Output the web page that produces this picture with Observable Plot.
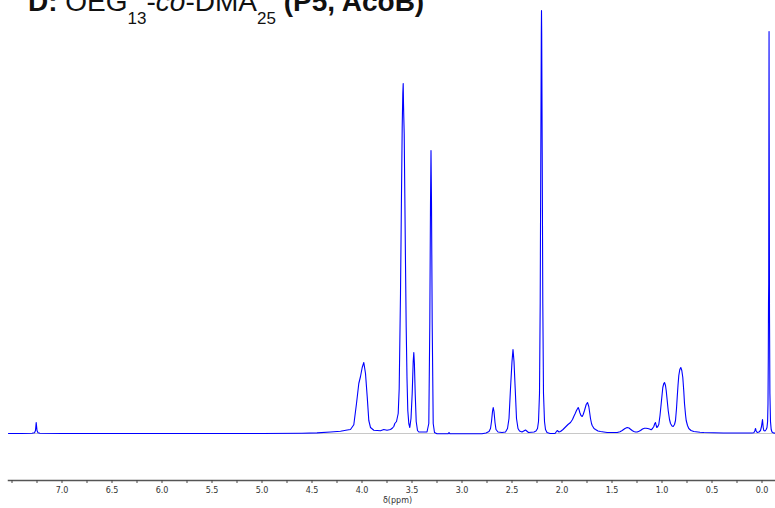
<!DOCTYPE html>
<html>
<head>
<meta charset="utf-8">
<script src="https://cdn.jsdelivr.net/npm/d3@7"></script>
<script src="https://cdn.jsdelivr.net/npm/@observablehq/plot@0.6"></script>
<style>
  html, body { margin: 0; padding: 0; background: #fff; }
  #wrap { position: relative; width: 775px; height: 508px; overflow: hidden; }
  #title { position: absolute; left: 28px; top: -12px; font-family: "Liberation Sans", Arial, sans-serif;
           font-size: 28px; line-height: 28px; white-space: nowrap; color: #111; z-index: 2; }
  #title .sub { font-size: 17px; position: relative; top: 13px; }
  #chart { position: absolute; left: 0; top: 0; }
</style>
</head>
<body>
<div id="wrap">
  <div id="title"><b>D:</b> OEG<span class="sub">13</span>-<i>co</i>-DMA<span class="sub">25</span> <b>(P5, AcoB)</b></div>
  <div id="chart"></div>
</div>
<script>
// chemical shift (ppm) and intensity (arbitrary units)
const spectrumPpm = [
  7.535, 7.40, 7.30, 7.275, 7.265, 7.258, 7.25, 7.24, 7.22, 7.0, 6.0, 5.0, 4.6, 4.45, 4.315, 4.215, 4.148, 4.115,
  4.082, 4.055, 4.032, 4.015, 3.998, 3.982, 3.965, 3.948, 3.932, 3.915, 3.882, 3.815, 3.782, 3.75, 3.715, 3.695,
  3.682, 3.672, 3.655, 3.638, 3.628, 3.615, 3.605, 3.598, 3.592, 3.588, 3.585, 3.582, 3.578, 3.572, 3.565, 3.558,
  3.55, 3.542, 3.532, 3.522, 3.51, 3.498, 3.488, 3.482, 3.476, 3.468, 3.458, 3.445, 3.432, 3.35, 3.332, 3.322,
  3.315, 3.31, 3.305, 3.298, 3.288, 3.275, 3.25, 3.14, 3.13, 3.12, 2.80, 2.76, 2.73, 2.715, 2.705, 2.695, 2.688,
  2.68, 2.67, 2.66, 2.64, 2.60, 2.565, 2.545, 2.53, 2.515, 2.50, 2.49, 2.48, 2.468, 2.455, 2.44, 2.425, 2.40,
  2.365, 2.335, 2.28, 2.26, 2.245, 2.235, 2.225, 2.218, 2.212, 2.207, 2.205, 2.203, 2.198, 2.192, 2.185, 2.175,
  2.165, 2.15, 2.12, 2.07, 2.048, 2.03, 2.015, 1.99, 1.965, 1.94, 1.915, 1.895, 1.882, 1.868, 1.855, 1.838, 1.83,
  1.822, 1.81, 1.798, 1.788, 1.775, 1.758, 1.745, 1.732, 1.722, 1.715, 1.705, 1.698, 1.68, 1.665, 1.64, 1.615,
  1.548, 1.448, 1.42, 1.398, 1.37, 1.348, 1.33, 1.315, 1.295, 1.282, 1.265, 1.248, 1.23, 1.215, 1.195, 1.175,
  1.16, 1.142, 1.125, 1.108, 1.095, 1.082, 1.072, 1.065, 1.058, 1.052, 1.042, 1.032, 1.02, 1.008, 0.992, 0.982,
  0.975, 0.965, 0.958, 0.948, 0.938, 0.925, 0.915, 0.9, 0.888, 0.875, 0.865, 0.855, 0.848, 0.84, 0.832, 0.822,
  0.812, 0.802, 0.792, 0.782, 0.775, 0.765, 0.758, 0.745, 0.732, 0.71, 0.682, 0.62, 0.582, 0.385, 0.1, 0.082,
  0.072, 0.065, 0.058, 0.048, 0.03, 0.015, 0.005, -0.005, -0.012, -0.018, -0.03, -0.042, -0.05, -0.056, -0.06,
  -0.063, -0.065, -0.067, -0.069, -0.0705, -0.072, -0.075, -0.079, -0.085, -0.092, -0.10, -0.115, -0.135
];
const spectrumIntensity = [
  0, 0, 0.2, 0.8, 3, 11, 3, 0.8, 0.2, 0, 0, 0, 0.2, 0.6, 1.5, 2.2, 3.5, 4,
  8.7, 30, 50, 57, 66, 71, 60, 37, 13, 6, 3.3, 2.7, 4, 3.2, 4, 5.5,
  7, 10, 12, 20, 45, 140, 240, 306, 340, 350, 330, 316, 300, 240, 170, 106,
  55, 23, 10, 6, 15, 40, 72, 81, 70, 40, 12, 3, 1.5, 1.5, 10, 110,
  230, 283, 230, 110, 10, 1, -0.3, -0.3, 1, -0.3, -0.3, 0.5, 2, 5, 12, 22, 26,
  22, 11, 4, 1.5, 1, 1.5, 5, 15, 45, 72, 84, 72, 45, 15, 5, 2.5, 1.5,
  3.5, 1, 1.5, 2.5, 5, 12, 40, 130, 280, 400, 423, 400, 280, 130, 40, 12,
  4, 1, 0, 0, 3, 1.5, 2, 4, 6.5, 9, 11, 14, 17, 20, 23, 26, 24,
  21, 18, 17, 19, 23, 29, 31, 27, 20, 15, 10, 8, 5, 4, 2.5, 2,
  1, 1, 1.8, 3, 5, 6, 5.5, 4.3, 2.7, 2, 1.5, 1.5, 2.2, 3, 4.5, 5.3,
  5.3, 5, 4.5, 3.7, 5, 7, 10, 11, 8, 6, 7, 9, 18, 30, 46, 50,
  51, 48, 43, 33, 23, 14, 10, 7.5, 7, 9, 13, 25, 36, 48, 58, 64,
  66, 63, 56, 42, 30, 19, 13, 8, 5, 3, 2, 1.2, 1, 0.5, 0.5, 0.8,
  2.5, 5, 2.5, 1, 1.5, 3, 7, 14, 6, 3, 2.5, 4, 6, 12, 30,
  76, 130, 150, 300, 402, 300, 120, 40, 12, 4, 1.5, 0.5, 0.3
];
const xTicks = d3.range(0, 31).map(i => i * 0.25);      // 0.00 … 7.50 (every tick)
const xLabelEvery = 0.5;
const xLabelMax = 7.0;                                   // 7.5 tick is unlabeled
const xLabel = "δ(ppm)";

const spectrum = spectrumPpm.map((p, i) => ({ppm: p, intensity: spectrumIntensity[i]}));

const fmt = d => (d <= xLabelMax + 1e-6 &&
  Math.abs(d / xLabelEvery - Math.round(d / xLabelEvery)) < 1e-6) ? d.toFixed(1) : "";

const chart = Plot.plot({
  width: 775,
  height: 508,
  marginLeft: 8,
  marginRight: 0,
  marginTop: 0,
  marginBottom: 28,
  style: { fontFamily: "DejaVu Sans, Verdana, sans-serif", background: "white", overflow: "visible" },
  x: { domain: [7.535, -0.135], range: [8, 775] },
  y: { domain: [0, 425], range: [433, 8], axis: null },
  marks: [
    Plot.ruleY([0], { stroke: "#c8c8c8", strokeWidth: 1 }),
    Plot.lineY(spectrum, { x: "ppm", y: "intensity", stroke: "#0000ff", strokeWidth: 1.1, curve: "linear" }),
    Plot.frame({ anchor: "bottom", stroke: "#555", strokeWidth: 1.5 }),
    Plot.axisX(xTicks, { anchor: "bottom", tickSize: 3, tickPadding: 4, fontSize: 8, tickFormat: fmt,
                         label: null, stroke: "#444", fill: "#333" }),
    Plot.text([xLabel], { frameAnchor: "bottom", dx: 5.5, dy: 22, fontSize: 8, fill: "#333" })
  ]
});
document.getElementById("chart").appendChild(chart);
</script>
</body>
</html>
